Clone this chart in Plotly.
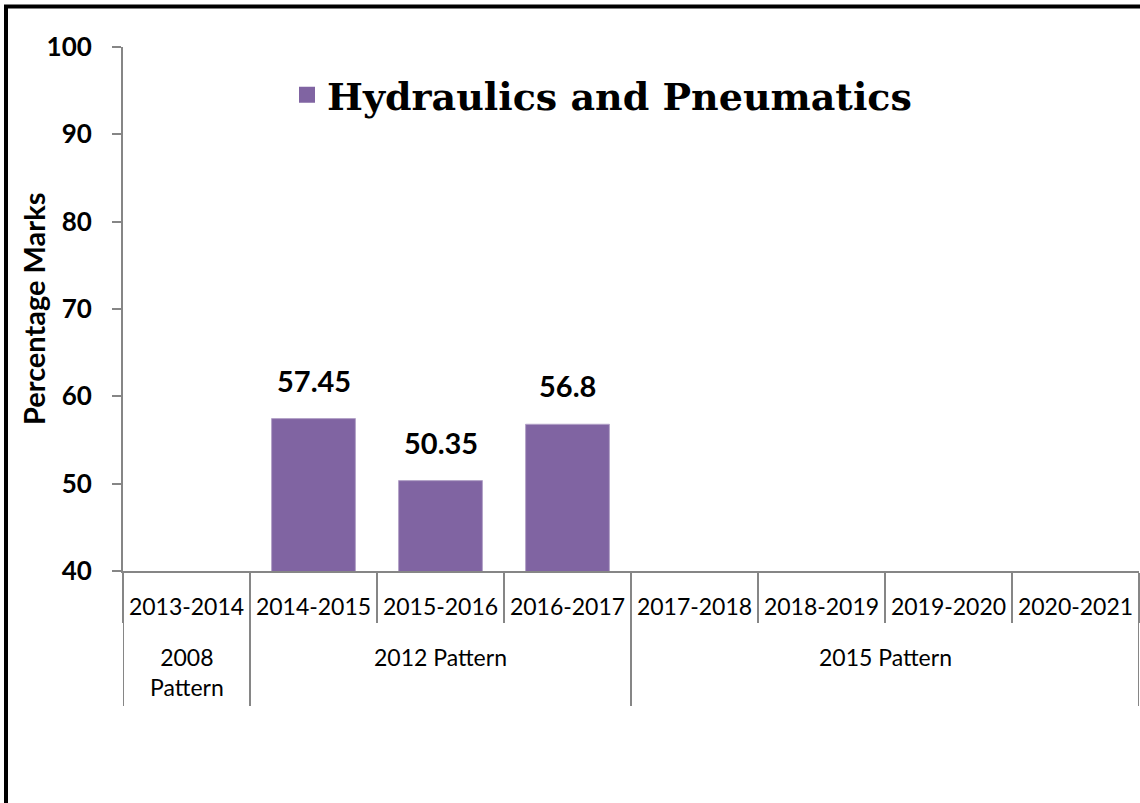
import plotly.graph_objects as go

years = ["2013-2014", "2014-2015", "2015-2016", "2016-2017",
         "2017-2018", "2018-2019", "2019-2020", "2020-2021"]
marks = [None, 57.45, 50.35, 56.8, None, None, None, None]
value_labels = ["", "57.45", "50.35", "56.8", "", "", "", ""]
patterns = ["2008<br>Pattern", "2012 Pattern", "2015 Pattern"]
pattern_first = [0, 1, 4]
pattern_last = [0, 3, 7]
series_name = "Hydraulics and Pneumatics"
y_title = "Percentage Marks"
y_ticks = [40, 50, 60, 70, 80, 90, 100]

PURPLE = "#8064A2"
GREY = "#868686"
W, H = 1140, 803
L, R, T, B = 123, 1, 47, 232
pw, ph = W - L - R, H - T - B


def px_x(px):
    return (px - L) / pw


def px_y(py):
    return (H - B - py) / ph


fig = go.Figure()
fig.add_trace(go.Bar(
    x=years, y=marks, marker=dict(color=PURPLE, line=dict(color="#B3A2C7", width=1)),
    width=0.66, showlegend=False, cliponaxis=False,
))
fig.add_trace(go.Scatter(
    x=[None], y=[None], mode="markers", name="<b>" + series_name + "</b>",
    marker=dict(symbol="square", size=16, color=PURPLE),
))

annotations = []
for i, (v, lab) in enumerate(zip(marks, value_labels)):
    if v is None:
        continue
    annotations.append(dict(
        x=years[i], y=v, xref="x", yref="y", text="<b>" + lab + "</b>", showarrow=False,
        yanchor="bottom", yshift=19,
        font=dict(family="Lato", size=29, color="black"),
    ))

# y-axis title
annotations.append(dict(
    x=px_x(33), y=0.5, xref="paper", yref="paper", text="<b>" + y_title + "</b>",
    textangle=-90, showarrow=False, xanchor="center", yanchor="middle",
    font=dict(family="Lato", size=29, color="black"),
))

shapes = []
for f, l, p in zip(pattern_first, pattern_last, patterns):
    annotations.append(dict(
        x=(f + l) / 2, y=px_y(641), xref="x", yref="paper", text=p,
        showarrow=False, yanchor="top", align="center",
        font=dict(family="Lato", size=23, color="black"),
    ))
for b in sorted(set([f - 0.5 for f in pattern_first] + [pattern_last[-1] + 0.5])):
    shapes.append(dict(type="line", xref="x", yref="paper", x0=b, x1=b,
                       y0=0, y1=px_y(706), line=dict(color=GREY, width=2)))

# outer frame (left and top edges)
shapes.append(dict(type="line", xref="paper", yref="paper",
                   x0=px_x(6), x1=px_x(6), y0=px_y(5), y1=px_y(810),
                   line=dict(color="black", width=4)))
shapes.append(dict(type="line", xref="paper", yref="paper",
                   x0=px_x(4), x1=px_x(1145), y0=px_y(6.5), y1=px_y(6.5),
                   line=dict(color="black", width=4)))

fig.update_layout(
    width=W, height=H,
    margin=dict(l=L, r=R, t=T, b=B, autoexpand=False),
    plot_bgcolor="white", paper_bgcolor="white",
    bargap=0.34,
    showlegend=True,
    legend=dict(x=px_x(287), y=px_y(95), xanchor="left", yanchor="middle",
                orientation="h", bgcolor="rgba(0,0,0,0)",
                font=dict(family="DejaVu Serif", size=38, color="black"),
                itemsizing="trace"),
    annotations=annotations,
    shapes=shapes,
    xaxis=dict(
        type="category", categoryorder="array", categoryarray=years,
        showline=True, linecolor=GREY, linewidth=2,
        ticks="outside", tickson="boundaries", ticklen=50, tickcolor=GREY, tickwidth=2,
        ticklabelstandoff=14,
        tickfont=dict(family="Lato", size=23, color="black"),
        showgrid=False, zeroline=False, range=[-0.5, 7.5],
    ),
    yaxis=dict(
        range=[40, 100], tickvals=y_ticks, ticktext=["<b>%d</b>" % t for t in y_ticks],
        showline=True, linecolor=GREY, linewidth=2,
        ticks="outside", ticklen=9, tickcolor=GREY, tickwidth=2,
        ticklabelstandoff=15,
        tickfont=dict(family="Lato", size=26, color="black"),
        showgrid=False, zeroline=False,
    ),
)

fig.write_html("out.html", config={"displayModeBar": False},
               post_script="document.body.style.margin='0';")
